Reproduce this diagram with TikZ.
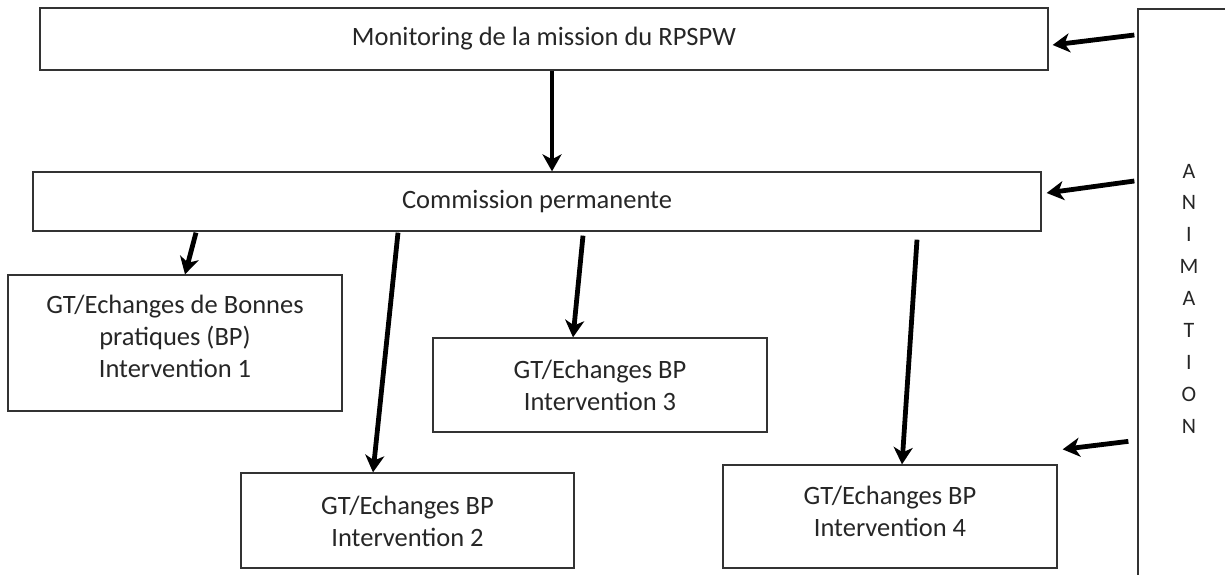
\documentclass[tikz,border=0pt]{standalone}
\usepackage{fontspec}
\setmainfont{Carlito}
\usetikzlibrary{arrows.meta,calc}
\begin{document}
\begin{tikzpicture}[x=1pt,y=-1pt,
  box/.style={draw=black!80, line width=1.3pt, inner sep=0pt, align=center,
    font=\fontsize{26.5}{32}\selectfont, text=black!85},
  arr/.style={line width=4.8pt, -{Stealth[length=17pt,width=19pt,inset=5pt]}}]
\useasboundingbox (0,0) rectangle (1225,574);
\clip (0,0) rectangle (1225,574);
\node[box, minimum width=1008pt, minimum height=62pt] (mon) at (544,39) {Monitoring de la mission du RPSPW};
\node[box, minimum width=1008pt, minimum height=59pt] (com) at (537,201.5) {Commission permanente};
\node[box, minimum width=334pt, minimum height=136pt] (gt1) at (175,343) {GT/Echanges de Bonnes\\pratiques (BP)\\Intervention 1\\[-18pt]};
\node[box, minimum width=334pt, minimum height=94pt] (gt3) at (600,385) {GT/Echanges BP\\Intervention 3};
\node[box, minimum width=333pt, minimum height=95pt] (gt2) at (407.5,520.5) {GT/Echanges BP\\Intervention 2\\[-34pt]};
\node[box, minimum width=334pt, minimum height=103pt] (gt4) at (890,516.5) {GT/Echanges BP\\Intervention 4\\[-22pt]};
\node[box, minimum width=102pt, minimum height=591pt, font=\fontsize{22}{31.9}\selectfont] (anim) at (1189,304.5) {A\\N\\I\\M\\A\\T\\I\\O\\N\\[-20pt]};
% downward arrows
\draw[arr] ([xshift=8pt]mon.south) -- ([xshift=15pt]com.north);
\draw[arr] ([xshift=-341pt,yshift=-1pt]com.south) -- ([xshift=10pt]gt1.north);
\draw[arr] ([xshift=-139pt,yshift=-1pt]com.south) -- ([xshift=-34.5pt]gt2.north);
\draw[arr] ([xshift=46pt,yshift=-4pt]com.south) -- ([xshift=-27pt]gt3.north);
\draw[arr] ([xshift=380pt,yshift=-8pt]com.south) -- ([xshift=12pt]gt4.north);
% arrows from ANIMATION
\draw[arr] ($(anim.west |- mon.east)+(-3,-4)$) -- ($(mon.east)+(4,6)$);
\draw[arr] ($(anim.west |- com.east)+(-3,-20.5)$) -- ($(com.east)+(5,-8.5)$);
\draw[arr] ($(anim.west |- gt4.north east)+(-9,-23)$) -- ($(gt4.north east)+(5,-15)$);
\end{tikzpicture}
\end{document}
